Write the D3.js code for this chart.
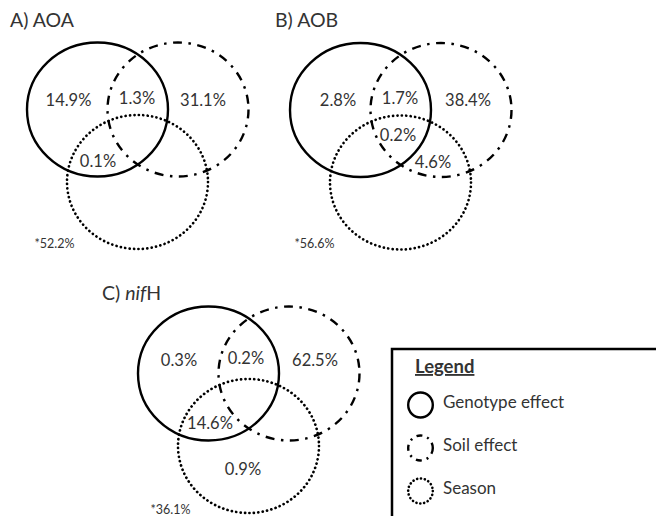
<!DOCTYPE html>
<html>
<head>
<meta charset="utf-8">
<script src="https://cdn.jsdelivr.net/npm/d3@7"></script>
<style>
  html, body { margin: 0; padding: 0; background: #fff; }
  svg text { font-family: Lato, "Open Sans", sans-serif; fill: #333; }
</style>
</head>
<body>
<svg id="chart" width="656" height="516"></svg>
<script>
// ---- data: variance partitioning (%) per gene, by Venn region ----
// region keys: G = genotype, S = soil, Se = season (combinations concatenated)
const setNames = ["Genotype effect", "Soil effect", "Season"];
const setKeys = ["G", "S", "Se"];

const aoaRegions = ["G", "GS", "S", "GSe"];
const aoaValues = [14.9, 1.3, 31.1, 0.1];
const aoaResidual = 52.2;

const aobRegions = ["G", "GS", "S", "GSSe", "SSe"];
const aobValues = [2.8, 1.7, 38.4, 0.2, 4.6];
const aobResidual = 56.6;

const nifhRegions = ["G", "GS", "S", "GSe", "Se"];
const nifhValues = [0.3, 0.2, 62.5, 14.6, 0.9];
const nifhResidual = 36.1;

// ---- layout ----
const W = 656, H = 516;
const svg = d3.select("#chart");

// each panel works in local units (genotype circle centre = 0,0; 1 unit = 1 px)
const circleCentres = { G: [0, 0], S: [80.5, 0], Se: [40, 72.5] };
const circleRx = 70.5, circleRy = 67;
const strokeStyle = {
  G:  { dash: null, cap: "butt" },
  S:  { dash: "9,6.5,2.5,6.5", cap: "butt" },
  Se: { dash: "0.1,4.35", cap: "round" }
};

const panels = [
  {
    title: ["A) AOA"], italic: [false],
    origin: [97.5, 109.5], titlePos: [10, 27],
    regions: aoaRegions, values: aoaValues, residual: aoaResidual,
    labelPos: { G: [-29, -9.5], GS: [39.5, -11.5], S: [105.5, -9.5], GSe: [0.5, 51.5] },
    residualPos: [-63, 138.5]
  },
  {
    title: ["B) AOB"], italic: [false],
    origin: [360.5, 110], titlePos: [275, 27],
    regions: aobRegions, values: aobValues, residual: aobResidual,
    labelPos: { G: [-22.5, -10], GS: [39.5, -12], S: [107.5, -10], GSSe: [37.5, 25], SSe: [72.5, 52] },
    residualPos: [-66, 138]
  },
  {
    title: ["C) ", "nif", "H"], italic: [false, true, false],
    origin: [208.5, 373.5], titlePos: [102, 300],
    regions: nifhRegions, values: nifhValues, residual: nifhResidual,
    labelPos: { G: [-29.5, -13.5], GS: [37.5, -15.5], S: [106.5, -13.5], GSe: [1.5, 49.5], Se: [34.5, 95.5] },
    residualPos: [-58, 140.5]
  }
];

const fmt = v => d3.format(".1f")(v) + "%";

panels.forEach(p => {
  const x = d3.scaleLinear().domain([0, 1]).range([p.origin[0], p.origin[0] + 1]);
  const y = d3.scaleLinear().domain([0, 1]).range([p.origin[1], p.origin[1] + 1]);
  const g = svg.append("g");

  // panel title
  const t = g.append("text")
    .attr("x", p.titlePos[0]).attr("y", p.titlePos[1])
    .style("font-size", "19.5px");
  p.title.forEach((s, i) => {
    t.append("tspan").text(s).style("font-style", p.italic[i] ? "italic" : "normal");
  });

  // the three effect ellipses
  g.selectAll("ellipse")
    .data(setKeys)
    .join("ellipse")
    .attr("cx", k => x(circleCentres[k][0]))
    .attr("cy", k => y(circleCentres[k][1]))
    .attr("rx", circleRx).attr("ry", circleRy)
    .attr("fill", "none")
    .attr("stroke", "#000")
    .attr("stroke-width", k => k === "Se" ? 2.7 : 2.4)
    .attr("stroke-dasharray", k => strokeStyle[k].dash)
    .attr("stroke-linecap", k => strokeStyle[k].cap);

  // region percentages
  g.selectAll("text.region")
    .data(p.regions.map((r, i) => ({ r, v: p.values[i] })))
    .join("text")
    .attr("class", "region")
    .attr("x", d => x(p.labelPos[d.r][0]))
    .attr("y", d => y(p.labelPos[d.r][1]))
    .attr("dy", "0.36em")
    .attr("text-anchor", "middle")
    .style("font-size", "16.5px")
    .text(d => fmt(d.v));

  // unexplained variance
  g.append("text")
    .attr("x", x(p.residualPos[0])).attr("y", y(p.residualPos[1]))
    .style("font-size", "12.5px")
    .text("*" + fmt(p.residual));
});

// ---- legend ----
const leg = svg.append("g");
leg.append("rect")
  .attr("x", 392).attr("y", 349)
  .attr("width", 300).attr("height", 200)
  .attr("fill", "#fff").attr("stroke", "#000").attr("stroke-width", 2.5);

leg.append("text")
  .attr("x", 415).attr("y", 373)
  .style("font-size", "18.5px").style("font-weight", "bold")
  .style("text-decoration", "underline")
  .text("Legend");

const legendY = d3.scalePoint().domain(setKeys).range([405, 491]);
const legendStyle = {
  G:  { dash: null, cap: "butt", w: 2.4 },
  S:  { dash: "6,5,2,5", cap: "butt", w: 2.4 },
  Se: { dash: "0.1,3.8", cap: "round", w: 2.6 }
};
const items = leg.selectAll("g.item")
  .data(setKeys)
  .join("g").attr("class", "item");
items.append("ellipse")
  .attr("cx", 420.5).attr("cy", k => legendY(k))
  .attr("rx", 12.3).attr("ry", 12.5)
  .attr("fill", "none").attr("stroke", "#000")
  .attr("stroke-width", k => legendStyle[k].w)
  .attr("stroke-dasharray", k => legendStyle[k].dash)
  .attr("stroke-linecap", k => legendStyle[k].cap);
items.append("text")
  .attr("x", 443)
  .attr("y", k => legendY(k) - 3)
  .attr("dy", "0.36em")
  .style("font-size", "17px")
  .text((k, i) => setNames[i]);
</script>
</body>
</html>
